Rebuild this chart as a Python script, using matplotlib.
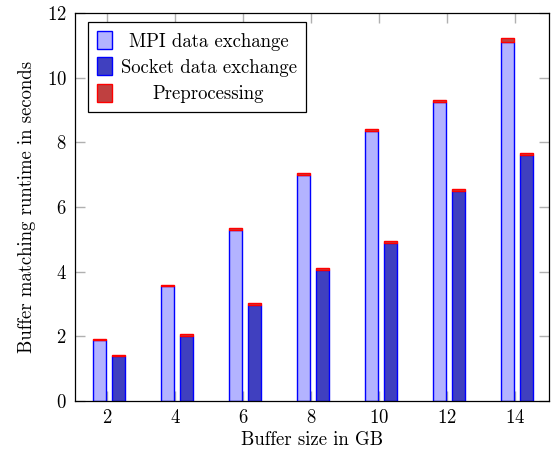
import matplotlib
matplotlib.use("Agg")
import matplotlib.pyplot as plt
import numpy as np

# buffer sizes in GB
sizes = [2, 4, 6, 8, 10, 12, 14]
# runtimes in seconds
mpi_exchange = [1.88, 3.55, 5.30, 7.00, 8.36, 9.25, 11.10]
mpi_prep = [0.05, 0.05, 0.05, 0.06, 0.06, 0.06, 0.13]
socket_exchange = [1.38, 2.02, 2.97, 4.06, 4.88, 6.50, 7.60]
socket_prep = [0.04, 0.05, 0.05, 0.05, 0.06, 0.06, 0.07]

plt.rcParams['font.family'] = ['cmr10', 'DejaVu Serif']
plt.rcParams['axes.formatter.use_mathtext'] = True
plt.rcParams['mathtext.fontset'] = 'cm'

FS = 13.5

fig = plt.figure(figsize=(5.56, 4.5), dpi=100)
ax = fig.add_axes([0.135, 0.109, 0.852, 0.862])

x = np.array(sizes, dtype=float)
width = 0.38
x_mpi = x - 0.22
x_sock = x + 0.34

ax.bar(x_mpi, mpi_exchange, width, color='#b3b3ff', edgecolor='blue', linewidth=1,
       label='MPI data exchange', zorder=2)
ax.bar(x_sock, socket_exchange, width, color='#4040bf', edgecolor='blue', linewidth=1,
       label='Socket data exchange', zorder=2)
ax.bar(x_mpi, mpi_prep, width, bottom=mpi_exchange, color='#bf4040', edgecolor='red',
       linewidth=1, label='Preprocessing', zorder=2)
ax.bar(x_sock, socket_prep, width, bottom=socket_exchange, color='#bf4040', edgecolor='red',
       linewidth=1, zorder=2)

ax.set_xlim(1.06, 15.0)
ax.set_ylim(0, 12)
ax.set_xticks(sizes)
ax.set_yticks([0, 2, 4, 6, 8, 10, 12])
ax.tick_params(axis='both', direction='in', length=7, width=1, color='#b0b0b0',
               top=True, right=True, labelsize=FS, pad=6)
for s in ax.spines.values():
    s.set_linewidth(0.9)

ax.set_xlabel('Buffer size in GB', fontsize=FS, labelpad=3)
ax.set_ylabel('Buffer matching runtime in seconds', fontsize=FS, labelpad=8)

leg = ax.legend(loc='upper left', bbox_to_anchor=(0.027, 0.977), borderaxespad=0,
                fontsize=FS, fancybox=False, framealpha=1, edgecolor='black',
                borderpad=0.5, handlelength=0.8, handleheight=1.1,
                handletextpad=0.45, labelspacing=0.36)
leg.get_frame().set_linewidth(0.9)

# centre the legend entries like pgfplots does
fig.canvas.draw()
renderer = fig.canvas.get_renderer()
texts = leg.get_texts()
widths = [t.get_window_extent(renderer).width for t in texts]
wmax = max(widths)
for t, w in zip(texts, widths):
    t.set_x((wmax - w) / 2)

fig.savefig('out.png', dpi=100)
